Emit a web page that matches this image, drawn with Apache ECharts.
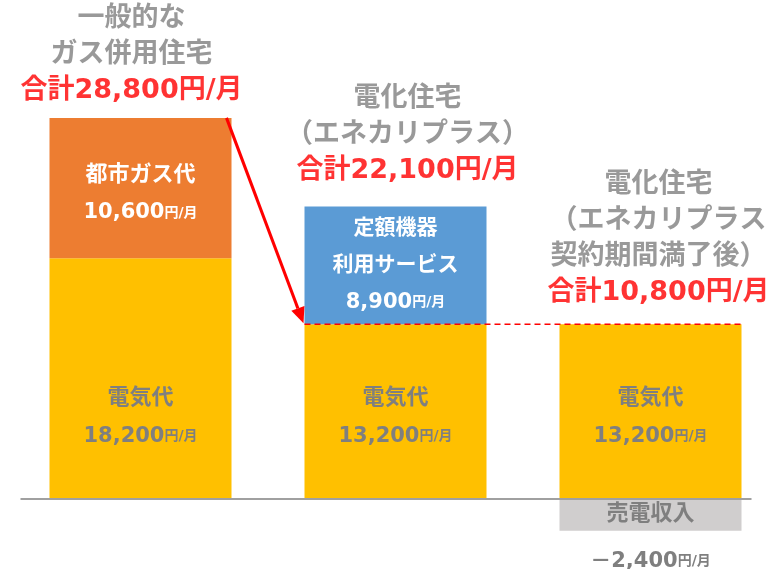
<!DOCTYPE html>
<html><head><meta charset="utf-8">
<script src="https://cdn.jsdelivr.net/npm/echarts@6/dist/echarts.min.js"></script>
<style>html,body{margin:0;padding:0;background:#fff}#c{width:782px;height:569px}</style>
</head><body><div id="c"></div>
<script>
const categories = ['一般的なガス併用住宅', '電化住宅（エネカリプラス）', '電化住宅（契約期間満了後）'];
const headings = [
  ['一般的な', 'ガス併用住宅'],
  ['電化住宅', '（エネカリプラス）'],
  ['電化住宅', '（エネカリプラス', '契約期間満了後）']
];
const totals = [28800, 22100, 10800];
const electricity = [18200, 13200, 13200];
const gas = [10600, null, null];
const equipment = [null, 8900, null];
const sellIncome = [null, null, -2400];

const FONT = '"DejaVu Sans", "Noto Sans CJK JP", sans-serif';
const GRAY = '#7f7f7f';
const RED = '#ff0000';
const fmt = v => Math.abs(v).toLocaleString('en-US');
const headingOffsets = [[-9, -4], [12, -13], [8, -8]];

const stackTop = categories.map((c, i) => (electricity[i] || 0) + (gas[i] || 0) + (equipment[i] || 0));

function valueRich(color, big, lh) {
  return {
    t: {fontFamily: FONT, fontWeight: 'bold', fontSize: big, color: color, lineHeight: lh},
    n: {fontFamily: FONT, fontWeight: 'bold', fontSize: 21, color: color, lineHeight: lh},
    u: {fontFamily: FONT, fontWeight: 'bold', fontSize: 14, color: color, lineHeight: lh}
  };
}

const chart = echarts.init(document.getElementById('c'), null, {renderer: 'canvas'});
const option = {
  animation: false,
  backgroundColor: '#ffffff',
  grid: {left: 13, right: 4, top: 102, bottom: 17, containLabel: false},
  xAxis: {type: 'category', data: categories, show: false},
  yAxis: {type: 'value', min: -4000, max: 30000, show: false},
  series: [
    {
      name: '電気代', type: 'bar', stack: 'cost', barWidth: 182, data: electricity,
      itemStyle: {color: '#ffc000'},
      label: {
        show: true, position: 'insideBottom', distance: 44,
        formatter: p => '{t|電気代}\n{n|' + fmt(p.value) + '}{u|円/月}',
        rich: valueRich(GRAY, 22, 38)
      }
    },
    {
      name: '都市ガス代', type: 'bar', stack: 'cost', barWidth: 182, data: gas,
      itemStyle: {color: '#ed7d31'},
      label: {
        show: true, position: 'insideTop', distance: 38,
        formatter: p => '{t|都市ガス代}\n{n|' + fmt(p.value) + '}{u|円/月}',
        rich: valueRich('#ffffff', 22, 38)
      }
    },
    {
      name: '定額機器利用サービス', type: 'bar', stack: 'cost', barWidth: 182, data: equipment,
      itemStyle: {color: '#5b9bd5'},
      label: {
        show: true, position: 'inside',
        formatter: p => '{t|定額機器}\n{t|利用サービス}\n{n|' + fmt(p.value) + '}{u|円/月}',
        rich: valueRich('#ffffff', 21, 37)
      }
    },
    {
      name: '売電収入', type: 'bar', stack: 'cost', barWidth: 182, data: sellIncome,
      itemStyle: {color: '#d0cece'},
      label: {
        show: true, position: 'insideTop', distance: 0,
        formatter: p => '{t|売電収入}\n{n|－' + fmt(p.value) + '}{u|円/月}',
        rich: {
          t: {fontFamily: FONT, fontWeight: 'bold', fontSize: 22, color: GRAY, lineHeight: 30},
          n: {fontFamily: FONT, fontWeight: 'bold', fontSize: 21, color: GRAY, lineHeight: 64},
          u: {fontFamily: FONT, fontWeight: 'bold', fontSize: 14, color: GRAY, lineHeight: 64}
        }
      }
    },
    {
      name: 'heading', type: 'scatter', symbolSize: 0, silent: true,
      data: stackTop.map((v, i) => ({value: v, label: {offset: headingOffsets[i]}})),
      label: {
        show: true, position: 'top', distance: 5, align: 'center',
        formatter: p => headings[p.dataIndex].map(s => '{h|' + s + '}').join('\n') +
          '\n{r|合計' + fmt(totals[p.dataIndex]) + '円/月}',
        rich: {
          h: {fontFamily: FONT, fontWeight: 'bold', fontSize: 27, color: GRAY, lineHeight: 36},
          r: {fontFamily: FONT, fontWeight: 'bold', fontSize: 27, color: RED, lineHeight: 36}
        }
      }
    }
  ]
};
chart.setOption(option);

// overlay annotations computed from the axes
const px = (i, v) => chart.convertToPixel({gridIndex: 0}, [i, v]);
const half = 91;
const base0 = px(0, 0), base2 = px(2, 0);
const dashL = px(1, electricity[1]), dashR = px(2, electricity[1]);
const aStart = px(0, stackTop[0]);
const aEnd = px(1, electricity[1]);
const sx = aStart[0] + 86, sy = aStart[1];
const tx = aEnd[0] - 92, ty = aEnd[1] - 1;
const dx = tx - sx, dy = ty - sy, len = Math.sqrt(dx * dx + dy * dy);
const ux = dx / len, uy = dy / len;
const hl = 16, hw = 7;
const bx = tx - ux * hl, by = ty - uy * hl;
chart.setOption({
  graphic: [
    {type: 'line', z: 100, shape: {x1: base0[0] - 120, y1: base0[1], x2: base2[0] + 101, y2: base2[1]},
      style: {stroke: '#a0a0a0', lineWidth: 2}},
    {type: 'line', z: 100, shape: {x1: dashL[0] - half, y1: dashL[1], x2: dashR[0] + half, y2: dashR[1]},
      style: {stroke: RED, lineWidth: 1.5, lineDash: [6, 4]}},
    {type: 'line', z: 100, shape: {x1: sx, y1: sy, x2: bx, y2: by},
      style: {stroke: RED, lineWidth: 3}},
    {type: 'polygon', z: 100, shape: {points: [[tx, ty], [bx - uy * hw, by + ux * hw], [bx + uy * hw, by - ux * hw]]},
      style: {fill: RED}}
  ]
});
</script>
</body></html>
